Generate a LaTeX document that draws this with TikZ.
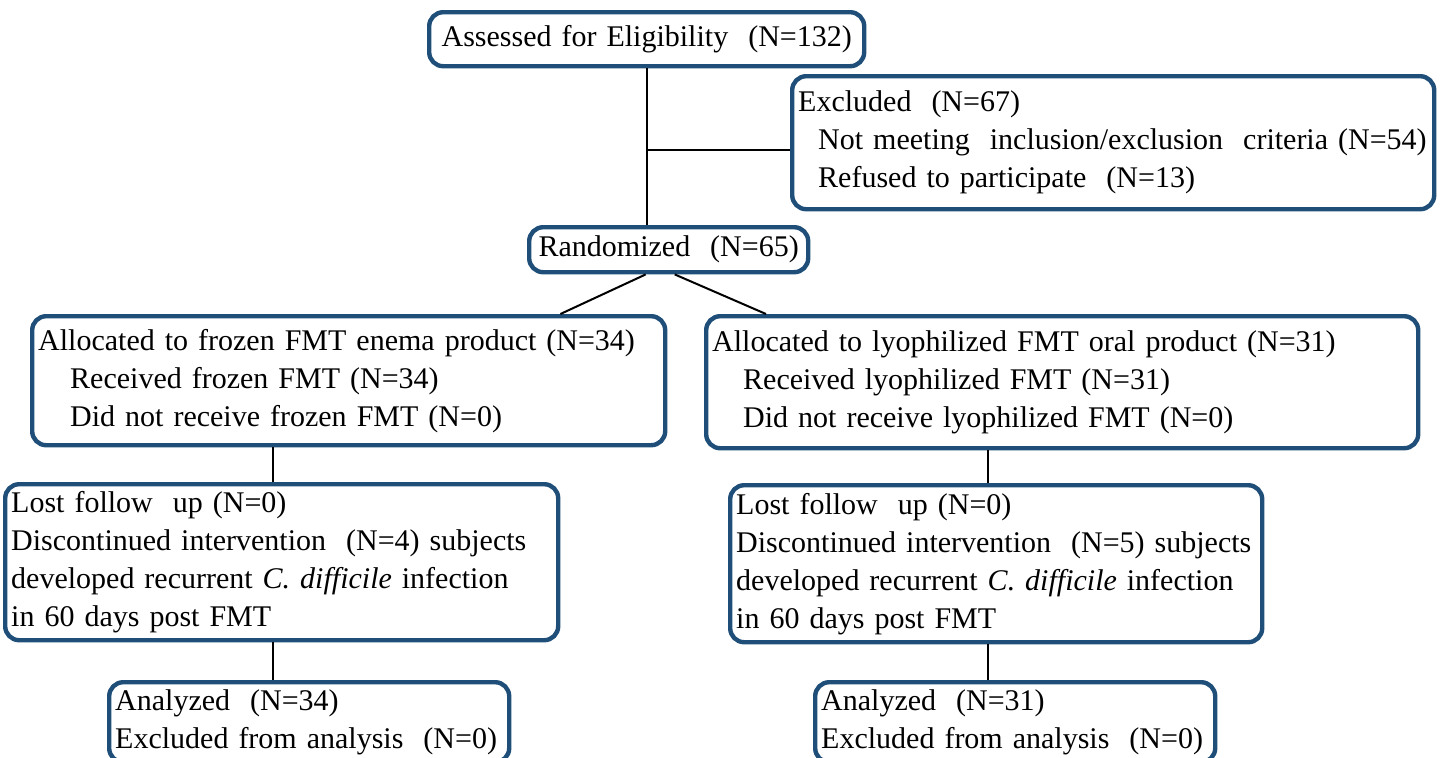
\documentclass[tikz,border=0pt]{standalone}
\usepackage{fontspec}
\setmainfont{Liberation Serif}
\usetikzlibrary{calc}
\definecolor{boxblue}{RGB}{31,78,121}
\tikzset{
  flowbox/.style={draw=boxblue, line width=2.2pt, rounded corners=7pt, anchor=north west,
    align=left, inner xsep=3pt, inner ysep=0pt, font=\fontsize{15}{19}\selectfont},
  link/.style={line width=1pt}
}
\begin{document}
\begin{tikzpicture}[x=0.5pt, y=-0.5pt]
    \useasboundingbox (0,0) rectangle (1440,757);
    % boxes
    \node[flowbox, align=center, minimum width=217.5pt, minimum height=27pt, text width=211.5pt] (assess) at (427,10)
        {Assessed for Eligibility \ (N=132)};
    \node[flowbox, minimum width=321pt, minimum height=66.5pt, text width=315pt] (excl) at (790,74)
        {Excluded \ (N=67)\\
         \hspace*{10pt}Not meeting \ inclusion/exclusion \ criteria (N=54)\\
         \hspace*{10pt}Refused to participate \ (N=13)};
    \node[flowbox, align=center, minimum width=139.5pt, minimum height=22.5pt, text width=133.5pt] (rand) at (527,225)
        {Randomized \ (N=65)};
    \node[flowbox, minimum width=316.5pt, minimum height=64.5pt, text width=310.5pt] (allocL) at (30,314)
        {Allocated to frozen FMT enema product (N=34)\\
         \hspace*{16pt}Received frozen FMT (N=34)\\
         \hspace*{16pt}Did not receive frozen FMT (N=0)};
    \node[flowbox, minimum width=356pt, minimum height=66pt, text width=350pt] (allocR) at (704,314)
        {Allocated to lyophilized FMT oral product (N=31)\\
         \hspace*{15.5pt}Received lyophilized FMT (N=31)\\
         \hspace*{15.5pt}Did not receive lyophilized FMT (N=0)};
    \node[flowbox, minimum width=276.5pt, minimum height=78pt, text width=270.5pt] (lostL) at (3,482)
        {Lost follow \ up (N=0)\\
         Discontinued intervention \ (N=4) subjects\\
         developed recurrent \textit{C. difficile} infection\\
         in 60 days post FMT};
    \node[flowbox, minimum width=266pt, minimum height=78.5pt, text width=260pt] (lostR) at (728,483)
        {Lost follow \ up (N=0)\\
         Discontinued intervention \ (N=5) subjects\\
         developed recurrent \textit{C. difficile} infection\\
         in 60 days post FMT};
    \node[flowbox, minimum width=200pt, minimum height=40pt, text width=194pt] (anaL) at (107,680)
        {Analyzed \ (N=34)\\
         Excluded from analysis \ (N=0)};
    \node[flowbox, minimum width=200pt, minimum height=40pt, text width=194pt] (anaR) at (813,680)
        {Analyzed \ (N=31)\\
         Excluded from analysis \ (N=0)};
    % connectors
    \coordinate (split) at ($(assess.south)+(0,82)$);
    \draw[link] (assess.south) -- (assess.south |- rand.north);
    \draw[link] (split) -- (split -| excl.west);
    \draw[link] ($(rand.south)+(-23,0)$) -- ($(allocL.north east)+(-107,0)$);
    \draw[link] ($(rand.south)+(6,0)$) -- ($(allocR.north west)+(62,0)$);
    \coordinate (trunkL) at ($(allocL.south west)+(243,0)$);
    \coordinate (trunkR) at ($(allocR.south west)+(284,0)$);
    \draw[link] (trunkL) -- (trunkL |- lostL.north);
    \draw[link] (trunkR) -- (trunkR |- lostR.north);
    \draw[link] (trunkL |- lostL.south) -- (trunkL |- anaL.north);
    \draw[link] (trunkR |- lostR.south) -- (trunkR |- anaR.north);
\end{tikzpicture}
\end{document}
